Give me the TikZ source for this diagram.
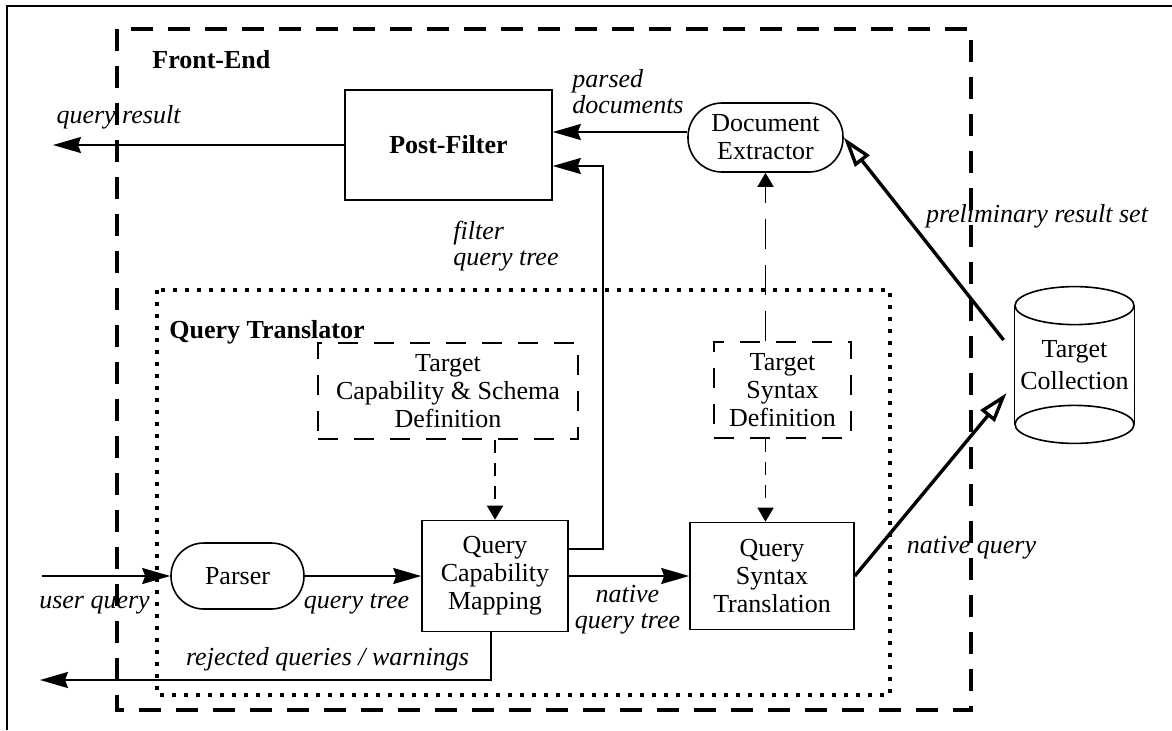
\documentclass[tikz,border=0pt]{standalone}
\usepackage{fontspec}
\setmainfont{Liberation Serif}
\usetikzlibrary{arrows.meta}

\newcommand\figfont{\fontsize{13pt}{14pt}\selectfont}

\begin{document}
\begin{tikzpicture}[
    x=0.5pt, y=-0.5pt,
    font=\figfont,
    node distance=130pt,
    >={Stealth[length=14pt,width=8pt,inset=1.5pt]},
    block/.style={rectangle, draw, line width=0.8pt, align=center, inner sep=0pt},
    pill/.style={rectangle, draw, line width=0.8pt, rounded corners=16.4pt, align=center, inner sep=0pt},
    defbox/.style={rectangle, draw, line width=0.8pt, dash pattern=on 10pt off 8pt, align=center, inner sep=0pt, minimum height=48pt},
    lbl/.style={font=\fontsize{13pt}{13pt}\selectfont\itshape, inner sep=0pt, align=left},
    title/.style={font=\figfont\bfseries, inner sep=0pt, anchor=base west},
    arr/.style={->, line width=1pt},
    dasharr/.style={-{Triangle[length=7pt,width=8pt]}, line width=0.8pt, dash pattern=on 6.5pt off 5pt},
    openarr/.style={-{Triangle[open,length=15pt,width=9pt]}, line width=1.7pt}
]
    \useasboundingbox (0,0) rectangle (1172,730);
    \draw[line width=1pt] (1172,6) -- (7,6) -- (7,730);

    \draw[line width=1.6pt, dash pattern=on 11pt off 7.5pt] (117,29) rectangle (971,710);
    \draw[line width=1.7pt, dash pattern=on 2.2pt off 3.8pt] (157,290) rectangle (890,695);
    \node[title] (frontend) at (152,68) {Front-End};
    \node[title] (translator) at (169,338) {Query Translator};

    \node[block, minimum width=103.5pt, minimum height=55pt, font=\figfont\bfseries] (postfilter) at (448.5,145) {Post-Filter};
    \node[pill, minimum width=77.5pt, minimum height=34.5pt, rounded corners=17pt] (docex) at (765.5,137.5) {Document\\Extractor};

    \node[defbox, minimum width=130pt] (capdef) at (448,391) {Target\\Capability \& Schema\\Definition};
    \node[defbox, minimum width=68.5pt] (syndef) at (782.5,390) {Target\\Syntax\\Definition};

    \node[pill, minimum width=66.5pt, minimum height=33pt] (parser) at (237.5,576) {Parser};
    \node[block, right of=parser, node distance=128.75pt, minimum width=73pt, minimum height=55.5pt] (capmap) {Query\\Capability\\Mapping};
    \node[block, right of=capmap, node distance=138.5pt, minimum width=82pt, minimum height=53.5pt] (syntrans) {Query\\Syntax\\Translation};

    \node[minimum width=59.5pt, minimum height=78pt, inner sep=0pt, align=center] (coll) at (1074.5,365) {Target\\[2pt]Collection};
    \draw[line width=0.8pt] ([yshift=-9.5pt]coll.north) ellipse[x radius=59.5, y radius=19];
    \draw[line width=0.8pt] ([yshift=9.5pt]coll.south) ellipse[x radius=59.5, y radius=19];
    \draw[line width=0.8pt] ([yshift=-9.5pt]coll.north west) -- ([yshift=9.5pt]coll.south west);
    \draw[line width=0.8pt] ([yshift=-9.5pt]coll.north east) -- ([yshift=9.5pt]coll.south east);

    \coordinate (qres) at (53,145);
    \coordinate (fup) at (603,166);
    \coordinate (uq) at (42,576);
    \coordinate (rej) at (40,680);

    \draw[arr] (postfilter.west) -- (qres);
    \draw[arr] ([yshift=2.75pt]docex.west) -- ([yshift=2.75pt]docex.west -| postfilter.east);
    \draw[arr] ([yshift=13.5pt]capmap.east) -| (fup) -- (fup -| postfilter.east);
    \draw[dasharr, dash pattern=on 15pt off 8pt] (syndef.north -| docex.south) -- (docex.south);
    \draw[dasharr] (syndef.south -| docex.south) -- (syntrans.north -| docex.south);
    \draw[dasharr] (capdef.south -| capmap.north) -- (capmap.north);
    \draw[arr] (uq) -- (parser.west);
    \draw[arr] (parser.east) -- (capmap.west);
    \draw[arr] (capmap.east) -- (syntrans.west);
    \draw[arr] ([xshift=-2pt]capmap.south) |- (rej);
    \draw[openarr] (syntrans.east) -- ([xshift=-4pt,yshift=-14pt]coll.west);
    \draw[openarr] ([xshift=-5.5pt,yshift=12.5pt]coll.west) -- (docex.east);

    \node[lbl, anchor=base] (lqres) at (118.5,123) {query result};
    \node[lbl, anchor=base west] (lparsed) at (572,113) {parsed\\documents};
    \node[lbl, anchor=base west] (lfilter) at (453,265) {filter\\ query tree};
    \node[lbl, anchor=base] (luser) at (94.5,608) {user query};
    \node[lbl, anchor=base] (ltree) at (356.5,608) {query tree};
    \node[lbl, anchor=base] (lrej) at (327.5,665) {rejected queries / warnings};
    \node[lbl, anchor=base, align=center] (lnattree) at (627.5,628) {native\\query tree};
    \node[lbl, anchor=base] (lnative) at (971.5,553) {native query};
    \node[lbl, anchor=base] (lprelim) at (1037,222) {preliminary result set};
\end{tikzpicture}
\end{document}
